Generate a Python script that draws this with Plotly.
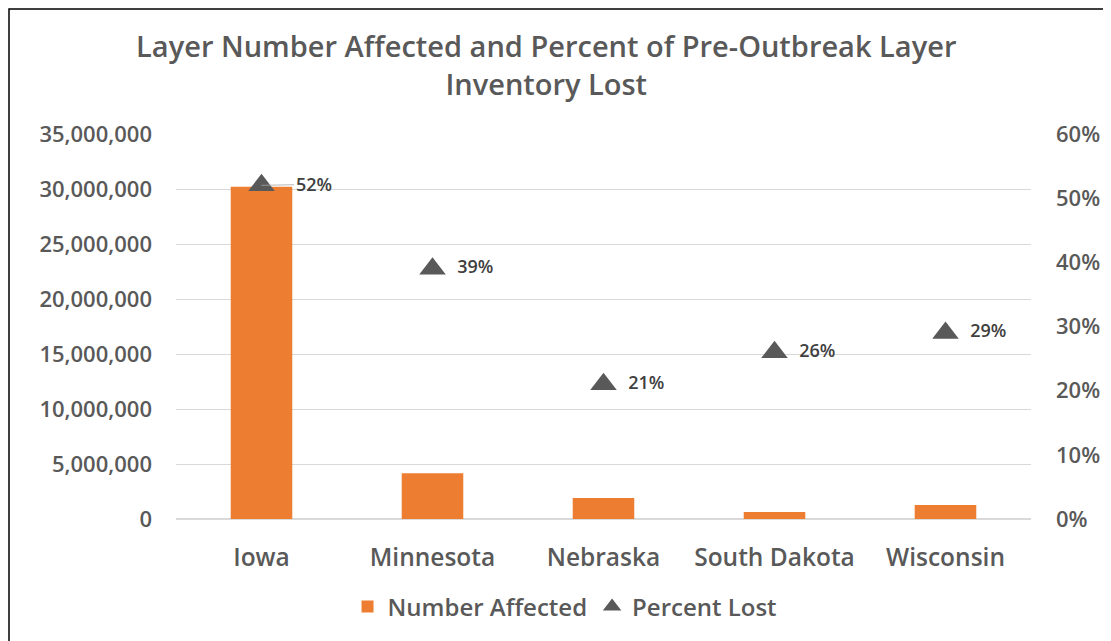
"""Layer number affected (bars) and percent of inventory lost (triangles)."""

import plotly.graph_objects as go

states = ["Iowa", "Minnesota", "Nebraska", "South Dakota", "Wisconsin"]
number_affected = [30_200_000, 4_150_000, 1_900_000, 630_000, 1_270_000]
percent_lost = [0.52, 0.39, 0.21, 0.26, 0.29]

GRAY = "#595959"
ORANGE = "#ED7D31"
FONT = "Open Sans"

# page body adds ~8px offset, so figure is sized to the viewport minus that
W, H = 1103, 633
ML, MT = 168, 126
PW, PH = 855, 385

fig = go.Figure()

fig.add_trace(go.Bar(
    x=states, y=number_affected, name="Number Affected",
    marker=dict(color=ORANGE, line=dict(width=0)), width=0.36,
))

# Iowa's label sits off the point with a leader line, the rest sit beside it
labels = ["" if i == 0 else f"  {p:.0%}" for i, p in enumerate(percent_lost)]
fig.add_trace(go.Scatter(
    x=states, y=percent_lost, yaxis="y2", name="Percent Lost",
    mode="markers+text", text=labels, textposition="middle right",
    textfont=dict(family=FONT, size=18, color="#404040", weight=600),
    marker=dict(symbol="triangle-up", size=23, color=GRAY),
))

fig.add_annotation(
    x=states[0], y=percent_lost[0], yref="y2", text=f"{percent_lost[0]:.0%}",
    showarrow=True, arrowhead=0, arrowwidth=0.8, arrowcolor="#a6a6a6",
    ax=52, ay=-1, xanchor="center",
    font=dict(family=FONT, size=18, color="#404040", weight=600),
)

tick_font = dict(family=FONT, size=22, color=GRAY, weight=600)

fig.update_layout(
    width=W, height=H,
    margin=dict(l=ML, r=W - ML - PW, t=MT, b=H - MT - PH),
    paper_bgcolor="white", plot_bgcolor="white",
    font=dict(family=FONT, color=GRAY),
    title=dict(
        text="Layer Number Affected and Percent of Pre-Outbreak Layer<br>Inventory Lost",
        x=0.488, xanchor="center", y=1 - 49 / H, yanchor="top",
        font=dict(family=FONT, size=29, color=GRAY, weight=600),
    ),
    xaxis=dict(
        showgrid=False, showline=False, ticks="",
        tickfont=dict(family=FONT, size=24.5, color=GRAY, weight=600),
        ticklabelstandoff=21,
    ),
    yaxis=dict(
        range=[0, 35_000_000], dtick=5_000_000, tickformat=",",
        showgrid=True, gridcolor="#d9d9d9", gridwidth=1,
        zeroline=True, zerolinecolor="#d9d9d9", zerolinewidth=1.5,
        ticks="", ticklabelstandoff=23, tickfont=tick_font,
    ),
    yaxis2=dict(
        overlaying="y", side="right", range=[0, 0.6], dtick=0.1,
        tickformat=".0%", showgrid=False, zeroline=False, ticks="",
        ticklabelstandoff=24, tickfont=tick_font,
    ),
    legend=dict(
        orientation="h", x=0.455, xanchor="center", y=-0.17, yanchor="top",
        font=dict(family=FONT, size=24, color=GRAY, weight=600),
        itemsizing="trace",
    ),
    showlegend=True,
)

# thin black frame around the chart area, as in the original
fig.add_shape(
    type="rect", xref="paper", yref="paper",
    x0=-(ML - 1) / PW, x1=1.3, y0=-0.5, y1=(PH + MT - 1) / PH,
    line=dict(color="black", width=1.5), fillcolor="rgba(0,0,0,0)", layer="below",
)

fig.write_html("out.html")
